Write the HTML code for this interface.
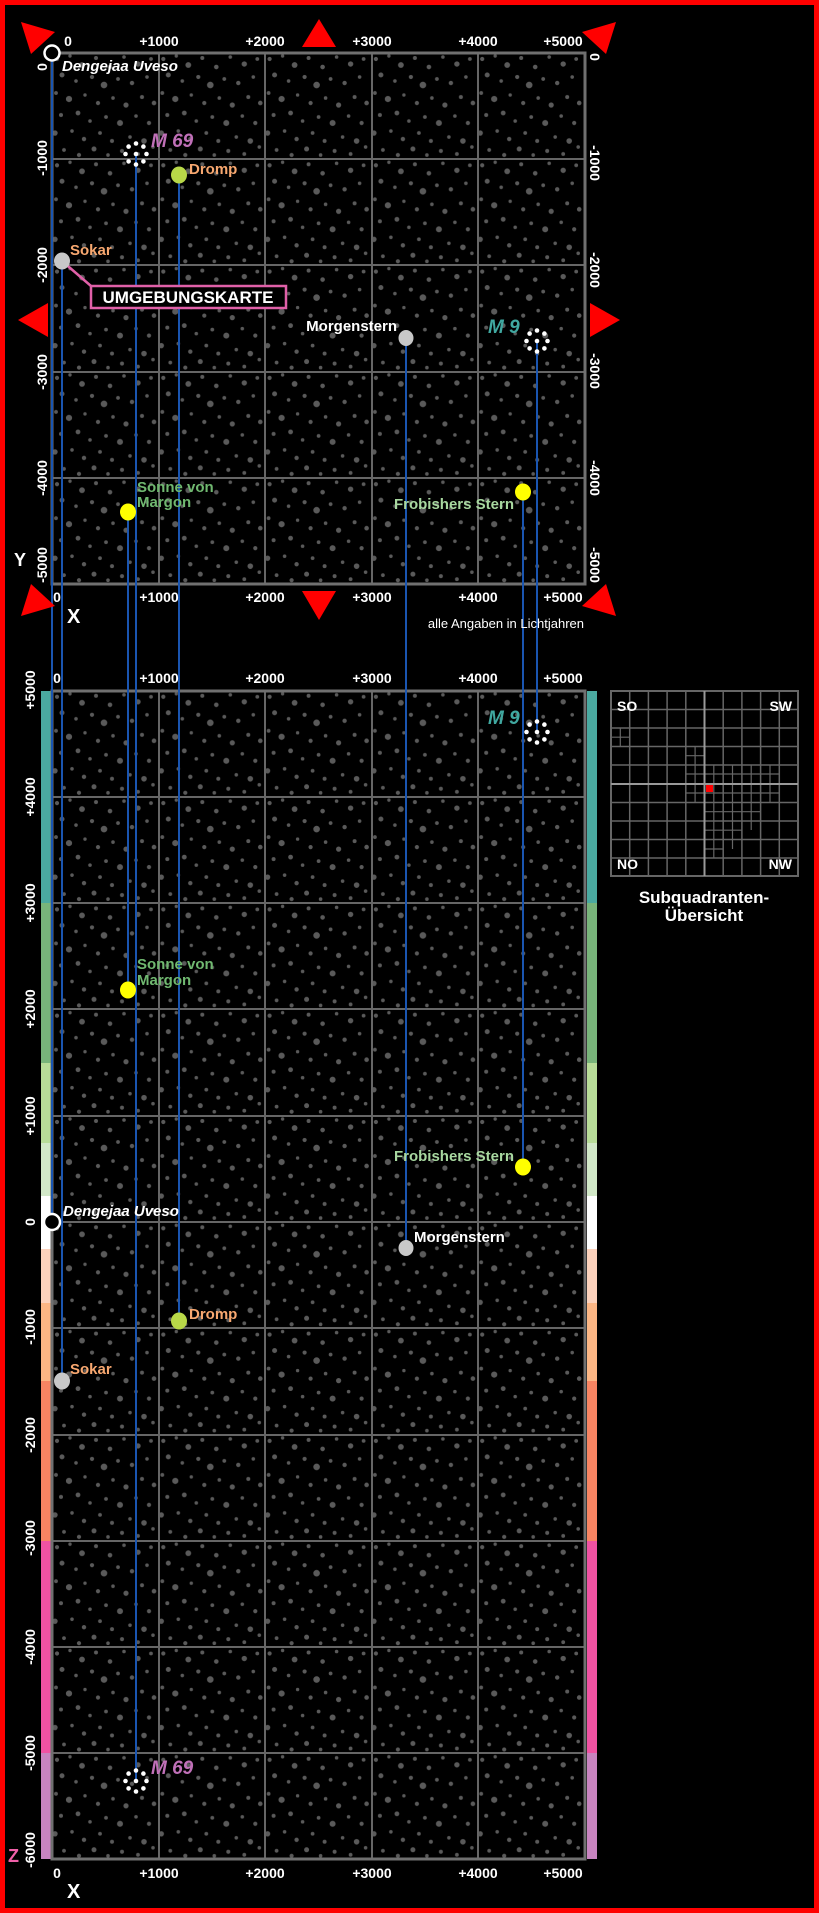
<!DOCTYPE html>
<html><head><meta charset="utf-8"><style>
html,body{margin:0;padding:0;background:#000;}
svg{display:block;}
text{font-family:"Liberation Sans",sans-serif;font-weight:bold;}
</style></head><body>
<svg width="819" height="1913" viewBox="0 0 819 1913" xmlns="http://www.w3.org/2000/svg">
<defs>
<pattern id="st" patternUnits="userSpaceOnUse" x="52" y="53" width="106.3" height="106.3">
<g fill="#5a5a5a" stroke="#5a5a5a" stroke-width="1">
<circle cx="5" cy="6" r="1.6"/><circle cx="18" cy="3" r="1.2"/><circle cx="30" cy="12" r="2.4"/><circle cx="44" cy="5" r="1.5"/><circle cx="58" cy="14" r="1.8"/><circle cx="72" cy="4" r="1.3"/><circle cx="86" cy="11" r="2.2"/><circle cx="99" cy="6" r="1.4"/>
<circle cx="10" cy="22" r="2"/><circle cx="24" cy="28" r="1.3"/><circle cx="40" cy="24" r="1.6"/><circle cx="52" cy="32" r="2.8"/><circle cx="66" cy="26" r="1.4"/><circle cx="80" cy="30" r="1.7"/><circle cx="95" cy="24" r="1.3"/>
<circle cx="4" cy="40" r="1.4"/><circle cx="17" cy="46" r="2.6"/><circle cx="33" cy="42" r="1.2"/><circle cx="46" cy="50" r="1.6"/><circle cx="61" cy="45" r="1.3"/><circle cx="74" cy="52" r="2.1"/><circle cx="90" cy="44" r="1.5"/><circle cx="102" cy="50" r="1.8"/>
<circle cx="9" cy="62" r="1.5"/><circle cx="26" cy="60" r="1.9"/><circle cx="38" cy="68" r="1.3"/><circle cx="54" cy="64" r="1.4"/><circle cx="68" cy="70" r="2.5"/><circle cx="84" cy="63" r="1.3"/><circle cx="97" cy="70" r="1.6"/>
<circle cx="3" cy="80" r="2.2"/><circle cx="20" cy="78" r="1.3"/><circle cx="32" cy="86" r="1.7"/><circle cx="48" cy="80" r="1.4"/><circle cx="60" cy="88" r="1.5"/><circle cx="78" cy="84" r="1.3"/><circle cx="92" cy="88" r="2.3"/>
<circle cx="12" cy="97" r="1.4"/><circle cx="27" cy="102" r="1.6"/><circle cx="42" cy="96" r="2"/><circle cx="56" cy="102" r="1.3"/><circle cx="70" cy="98" r="1.5"/><circle cx="86" cy="101" r="1.4"/><circle cx="101" cy="94" r="1.3"/>
</g></pattern>
<g id="cl" fill="#fff"><circle cx="0" cy="0" r="2.3"/><circle cx="0" cy="-10.5" r="2.3"/><circle cx="7.4" cy="-7.4" r="2.3"/><circle cx="10.5" cy="0" r="2.3"/><circle cx="7.4" cy="7.4" r="2.3"/><circle cx="0" cy="10.5" r="2.3"/><circle cx="-7.4" cy="7.4" r="2.3"/><circle cx="-10.5" cy="0" r="2.3"/><circle cx="-7.4" cy="-7.4" r="2.3"/></g>
</defs>
<rect x="2.5" y="2.5" width="814" height="1908" fill="none" stroke="#f00" stroke-width="5"/>

<!-- top map -->
<rect x="52" y="53" width="533" height="531" fill="url(#st)"/>
<g stroke="#666" stroke-width="2">
<line x1="159" y1="53" x2="159" y2="584"/><line x1="265" y1="53" x2="265" y2="584"/><line x1="372" y1="53" x2="372" y2="584"/><line x1="478" y1="53" x2="478" y2="584"/>
<line x1="52" y1="159" x2="585" y2="159"/><line x1="52" y1="265" x2="585" y2="265"/><line x1="52" y1="372" x2="585" y2="372"/><line x1="52" y1="478" x2="585" y2="478"/>
</g>
<rect x="52" y="53" width="533" height="531" fill="none" stroke="#707070" stroke-width="3"/>

<!-- bottom map -->
<rect x="41" y="691" width="10" height="212" fill="#4aa9a0"/><rect x="587" y="691" width="10" height="212" fill="#4aa9a0"/>
<rect x="41" y="903" width="10" height="160" fill="#78b47a"/><rect x="587" y="903" width="10" height="160" fill="#78b47a"/>
<rect x="41" y="1063" width="10" height="80" fill="#b8dc98"/><rect x="587" y="1063" width="10" height="80" fill="#b8dc98"/>
<rect x="41" y="1143" width="10" height="53" fill="#d2e8c8"/><rect x="587" y="1143" width="10" height="53" fill="#d2e8c8"/>
<rect x="41" y="1196" width="10" height="53" fill="#fff"/><rect x="587" y="1196" width="10" height="53" fill="#fff"/>
<rect x="41" y="1249" width="10" height="54" fill="#fcd2bc"/><rect x="587" y="1249" width="10" height="54" fill="#fcd2bc"/>
<rect x="41" y="1303" width="10" height="78" fill="#fcb684"/><rect x="587" y="1303" width="10" height="78" fill="#fcb684"/>
<rect x="41" y="1381" width="10" height="160" fill="#f88462"/><rect x="587" y="1381" width="10" height="160" fill="#f88462"/>
<rect x="41" y="1541" width="10" height="212" fill="#f052a2"/><rect x="587" y="1541" width="10" height="212" fill="#f052a2"/>
<rect x="41" y="1753" width="10" height="106" fill="#c884c0"/><rect x="587" y="1753" width="10" height="106" fill="#c884c0"/>

<rect x="52" y="691" width="533" height="1168" fill="url(#st)"/>
<g stroke="#666" stroke-width="2">
<line x1="159" y1="691" x2="159" y2="1859"/><line x1="265" y1="691" x2="265" y2="1859"/><line x1="372" y1="691" x2="372" y2="1859"/><line x1="478" y1="691" x2="478" y2="1859"/>
<line x1="52" y1="797" x2="585" y2="797"/><line x1="52" y1="903" x2="585" y2="903"/><line x1="52" y1="1009" x2="585" y2="1009"/><line x1="52" y1="1116" x2="585" y2="1116"/><line x1="52" y1="1222" x2="585" y2="1222"/><line x1="52" y1="1328" x2="585" y2="1328"/><line x1="52" y1="1435" x2="585" y2="1435"/><line x1="52" y1="1541" x2="585" y2="1541"/><line x1="52" y1="1647" x2="585" y2="1647"/><line x1="52" y1="1753" x2="585" y2="1753"/>
</g>
<rect x="52" y="691" width="533" height="1168" fill="none" stroke="#707070" stroke-width="3"/>

<!-- connectors -->
<g stroke="#1a55b0" stroke-width="2">
<line x1="52" y1="53" x2="52" y2="1222"/>
<line x1="62" y1="261" x2="62" y2="1381"/>
<line x1="128" y1="512" x2="128" y2="990"/>
<line x1="136" y1="154" x2="136" y2="1781"/>
<line x1="179" y1="175" x2="179" y2="1321"/>
<line x1="406" y1="338" x2="406" y2="1248"/>
<line x1="523" y1="492" x2="523" y2="1167"/>
<line x1="537" y1="341" x2="537" y2="732"/>
</g>

<!-- top objects -->
<circle cx="52" cy="53" r="7.5" fill="#000" stroke="#fff" stroke-width="2.5"/>
<text x="62" y="71" font-size="15" font-style="italic" fill="#fff">Dengejaa Uveso</text>
<use href="#cl" x="136" y="154"/>
<text x="151" y="147" font-size="19" font-style="italic" fill="#c070b8">M 69</text>
<ellipse cx="179" cy="175" rx="8" ry="8.5" fill="#b8d848"/>
<text x="189" y="174" font-size="15" fill="#f8a870">Dromp</text>
<line x1="62" y1="261" x2="91" y2="286" stroke="#e060a8" stroke-width="2.5"/>
<ellipse cx="62" cy="261" rx="8" ry="8.5" fill="#c8c8c8"/>
<text x="70" y="255" font-size="15" fill="#f8a870">Sokar</text>
<rect x="91" y="286" width="195" height="22" fill="#000" stroke="#e060a8" stroke-width="2.5"/>
<text x="188" y="303" font-size="17" fill="#fff" text-anchor="middle">UMGEBUNGSKARTE</text>
<ellipse cx="406" cy="338" rx="7.5" ry="8" fill="#c8c8c8"/>
<text x="397" y="331" font-size="15" fill="#fff" text-anchor="end">Morgenstern</text>
<use href="#cl" x="537" y="341"/>
<text x="488" y="333" font-size="19" font-style="italic" fill="#40a8a0">M 9</text>
<ellipse cx="523" cy="492" rx="8" ry="8.5" fill="#ffff00"/>
<text x="514" y="509" font-size="15" fill="#a8d8a0" text-anchor="end">Frobishers Stern</text>
<ellipse cx="128" cy="512" rx="8" ry="8.5" fill="#ffff00"/>
<text x="137" y="492" font-size="15" fill="#70b870">Sonne von</text>
<text x="137" y="507" font-size="15" fill="#70b870">Margon</text>

<!-- bottom objects -->
<use href="#cl" x="537" y="732"/>
<text x="488" y="724" font-size="19" font-style="italic" fill="#40a8a0">M 9</text>
<ellipse cx="128" cy="990" rx="8" ry="8.5" fill="#ffff00"/>
<text x="137" y="969" font-size="15" fill="#70b870">Sonne von</text>
<text x="137" y="985" font-size="15" fill="#70b870">Margon</text>
<ellipse cx="523" cy="1167" rx="8" ry="8.5" fill="#ffff00"/>
<text x="514" y="1161" font-size="15" fill="#a8d8a0" text-anchor="end">Frobishers Stern</text>
<circle cx="52" cy="1222" r="8" fill="#000" stroke="#fff" stroke-width="2.5"/>
<text x="63" y="1216" font-size="15" font-style="italic" fill="#fff">Dengejaa Uveso</text>
<ellipse cx="406" cy="1248" rx="7.5" ry="8" fill="#c8c8c8"/>
<text x="414" y="1242" font-size="15" fill="#fff">Morgenstern</text>
<ellipse cx="179" cy="1321" rx="8" ry="8.5" fill="#b8d848"/>
<text x="189" y="1319" font-size="15" fill="#f8a870">Dromp</text>
<ellipse cx="62" cy="1381" rx="8" ry="8.5" fill="#c8c8c8"/>
<text x="70" y="1374" font-size="15" fill="#f8a870">Sokar</text>
<use href="#cl" x="136" y="1781"/>
<text x="151" y="1774" font-size="19" font-style="italic" fill="#c070b8">M 69</text>

<!-- axis labels -->
<g font-size="14" fill="#fff" text-anchor="middle">
<text x="68" y="46">0</text><text x="159" y="46">+1000</text><text x="265" y="46">+2000</text><text x="372" y="46">+3000</text><text x="478" y="46">+4000</text><text x="563" y="46">+5000</text>
<text x="57" y="602">0</text><text x="159" y="602">+1000</text><text x="265" y="602">+2000</text><text x="372" y="602">+3000</text><text x="478" y="602">+4000</text><text x="563" y="602">+5000</text>
<text x="57" y="683">0</text><text x="159" y="683">+1000</text><text x="265" y="683">+2000</text><text x="372" y="683">+3000</text><text x="478" y="683">+4000</text><text x="563" y="683">+5000</text>
<text x="57" y="1878">0</text><text x="159" y="1878">+1000</text><text x="265" y="1878">+2000</text><text x="372" y="1878">+3000</text><text x="478" y="1878">+4000</text><text x="563" y="1878">+5000</text>
<text transform="translate(47,67) rotate(-90)">0</text>
<text transform="translate(47,158) rotate(-90)">-1000</text>
<text transform="translate(47,265) rotate(-90)">-2000</text>
<text transform="translate(47,372) rotate(-90)">-3000</text>
<text transform="translate(47,478) rotate(-90)">-4000</text>
<text transform="translate(47,565) rotate(-90)">-5000</text>
<text transform="translate(590,57) rotate(90)">0</text>
<text transform="translate(590,163) rotate(90)">-1000</text>
<text transform="translate(590,270) rotate(90)">-2000</text>
<text transform="translate(590,371) rotate(90)">-3000</text>
<text transform="translate(590,478) rotate(90)">-4000</text>
<text transform="translate(590,565) rotate(90)">-5000</text>
<text transform="translate(35,690) rotate(-90)">+5000</text>
<text transform="translate(35,797) rotate(-90)">+4000</text>
<text transform="translate(35,903) rotate(-90)">+3000</text>
<text transform="translate(35,1009) rotate(-90)">+2000</text>
<text transform="translate(35,1116) rotate(-90)">+1000</text>
<text transform="translate(35,1222) rotate(-90)">0</text>
<text transform="translate(35,1327) rotate(-90)">-1000</text>
<text transform="translate(35,1435) rotate(-90)">-2000</text>
<text transform="translate(35,1538) rotate(-90)">-3000</text>
<text transform="translate(35,1647) rotate(-90)">-4000</text>
<text transform="translate(35,1753) rotate(-90)">-5000</text>
<text transform="translate(35,1850) rotate(-90)">-6000</text>
</g>
<text x="14" y="566" font-size="18" fill="#fff">Y</text>
<text x="67" y="623" font-size="20" fill="#fff">X</text>
<text x="67" y="1898" font-size="20" fill="#fff">X</text>
<text x="8" y="1862" font-size="18" fill="#f060a8">Z</text>
<text x="584" y="628" font-size="13" fill="#fff" style="font-weight:normal" text-anchor="end">alle Angaben in Lichtjahren</text>

<!-- red arrows -->
<g fill="#f00">
<polygon points="21,22 55,32 31,54"/>
<polygon points="616,22 582,32 606,54"/>
<polygon points="21,616 31,584 55,606"/>
<polygon points="616,616 606,584 582,606"/>
<polygon points="319,19 302,47 336,47"/>
<polygon points="319,620 302,591 336,591"/>
<polygon points="18,320 48,303 48,337"/>
<polygon points="620,320 590,303 590,337"/>
</g>

<!-- subquadrant overview -->
<g stroke="#666" stroke-width="1.5" fill="none">
<rect x="611" y="691" width="187" height="185" stroke-width="2"/>
<line x1="629.7" y1="691" x2="629.7" y2="876"/><line x1="648.4" y1="691" x2="648.4" y2="876"/><line x1="667.1" y1="691" x2="667.1" y2="876"/><line x1="685.8" y1="691" x2="685.8" y2="876"/><line x1="723.2" y1="691" x2="723.2" y2="876"/><line x1="741.9" y1="691" x2="741.9" y2="876"/><line x1="760.6" y1="691" x2="760.6" y2="876"/><line x1="779.3" y1="691" x2="779.3" y2="876"/>
<line x1="611" y1="709.5" x2="798" y2="709.5"/><line x1="611" y1="728" x2="798" y2="728"/><line x1="611" y1="746.5" x2="798" y2="746.5"/><line x1="611" y1="765" x2="798" y2="765"/><line x1="611" y1="802.5" x2="798" y2="802.5"/><line x1="611" y1="821" x2="798" y2="821"/><line x1="611" y1="839.5" x2="798" y2="839.5"/><line x1="611" y1="858" x2="798" y2="858"/>
<g stroke-width="1.2">
<line x1="620.3" y1="728" x2="620.3" y2="746.5"/><line x1="611" y1="737.2" x2="629.7" y2="737.2"/>
<line x1="695.1" y1="746.5" x2="695.1" y2="802.5"/><line x1="685.8" y1="755.7" x2="704.5" y2="755.7"/>
<line x1="685.8" y1="774" x2="779.3" y2="774"/><line x1="685.8" y1="793" x2="779.3" y2="793"/>
<line x1="713.8" y1="765" x2="713.8" y2="858"/><line x1="732.5" y1="765" x2="732.5" y2="849"/><line x1="751.2" y1="765" x2="751.2" y2="830"/><line x1="770" y1="765" x2="770" y2="802.5"/>
<line x1="704.5" y1="811.7" x2="760.6" y2="811.7"/><line x1="704.5" y1="830.2" x2="741.9" y2="830.2"/><line x1="704.5" y1="849" x2="723.2" y2="849"/>
</g>
<line x1="704.5" y1="691" x2="704.5" y2="876" stroke="#999" stroke-width="2"/>
<line x1="611" y1="784" x2="798" y2="784" stroke="#999" stroke-width="2"/>
</g>
<rect x="706" y="785" width="7" height="7" fill="#f00"/>
<g font-size="14" fill="#fff">
<text x="617" y="711">SO</text><text x="792" y="711" text-anchor="end">SW</text>
<text x="617" y="869">NO</text><text x="792" y="869" text-anchor="end">NW</text>
</g>
<g font-size="17" fill="#fff" style="font-weight:normal" text-anchor="middle">
<text x="704" y="903">Subquadranten-</text><text x="704" y="921">Übersicht</text>
</g>
</svg>
</body></html>
